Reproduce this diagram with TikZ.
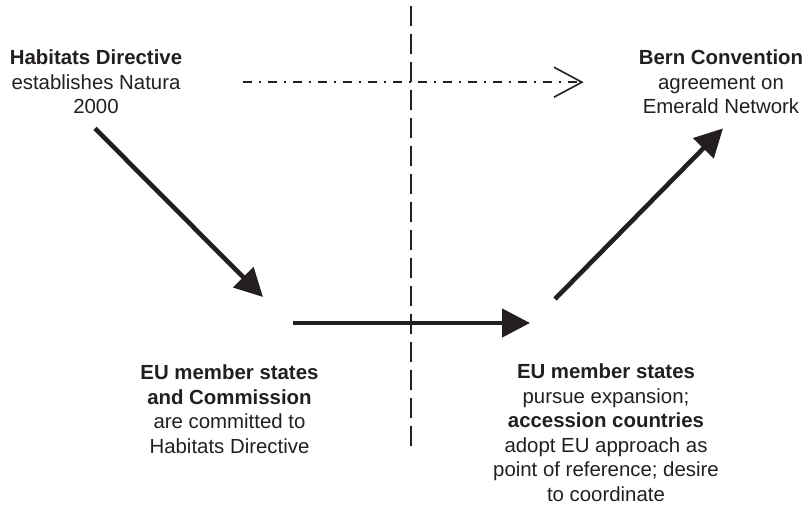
\documentclass[tikz,border=0pt]{standalone}
\usepackage{fontspec}
\setmainfont{Liberation Sans}
\usepackage{tikz}
\usepackage{xcolor}
\usetikzlibrary{arrows.meta,calc}
\definecolor{inkblack}{HTML}{231F20}

\tikzset{
    label/.style={align=center, inner sep=0pt, anchor=north, text=inkblack,
        font=\fontsize{20.4}{24.5}\selectfont},
    bigarrow/.style={draw=inkblack, line width=4.6pt,
        -{Triangle[length=28pt,width=28pt,fill=inkblack]}},
    linkarrow/.style={draw=inkblack, line width=1.8pt,
        dash pattern=on 9pt off 7pt on 2pt off 7pt,
        -{Straight Barb[length=28pt,width=30pt,line width=1.6pt]}},
    divider/.style={draw=inkblack, line width=2.4pt, dash pattern=on 20pt off 8pt}
}

\begin{document}
\begin{tikzpicture}[x=1pt, y=-1pt]
                \useasboundingbox (0,0) rectangle (808,507);
                \node[label] (habitats) at (96, 50) {
                    \textbf{Habitats Directive} \\
                    establishes Natura \\
                    2000
                };
                \node[label] (bern) at (721, 50) {
                    \textbf{Bern Convention} \\
                    agreement on \\
                    Emerald Network
                };
                \node[label] (eumember) at (229.5, 365) {
                    \textbf{EU member states} \\
                    \textbf{and Commission} \\
                    are committed to \\
                    Habitats Directive
                };
                \node[label] (euexpand) at (606, 364) {
                    \textbf{EU member states} \\
                    pursue expansion; \\
                    \textbf{accession countries} \\
                    adopt EU approach as \\
                    point of reference; desire \\
                    to coordinate
                };
                % dividing line
                \draw[divider] (411, 6) -- (411, 449);
                % arrows
                \draw[linkarrow] ($(habitats.east)+(61,0)$) -- ($(bern.west)+(-55,0)$);
                \draw[bigarrow] ($(habitats.south)+(-1,14)$) -- ($(eumember.north)+(33.5,-68)$);
                \draw[bigarrow] ($(eumember.north)+(63.5,-42)$) -- ($(euexpand.north)+(-76,-41)$);
                \draw[bigarrow] ($(euexpand.north)+(-51,-65)$) -- ($(bern.south)+(2,14)$);
            \end{tikzpicture}
\end{document}
